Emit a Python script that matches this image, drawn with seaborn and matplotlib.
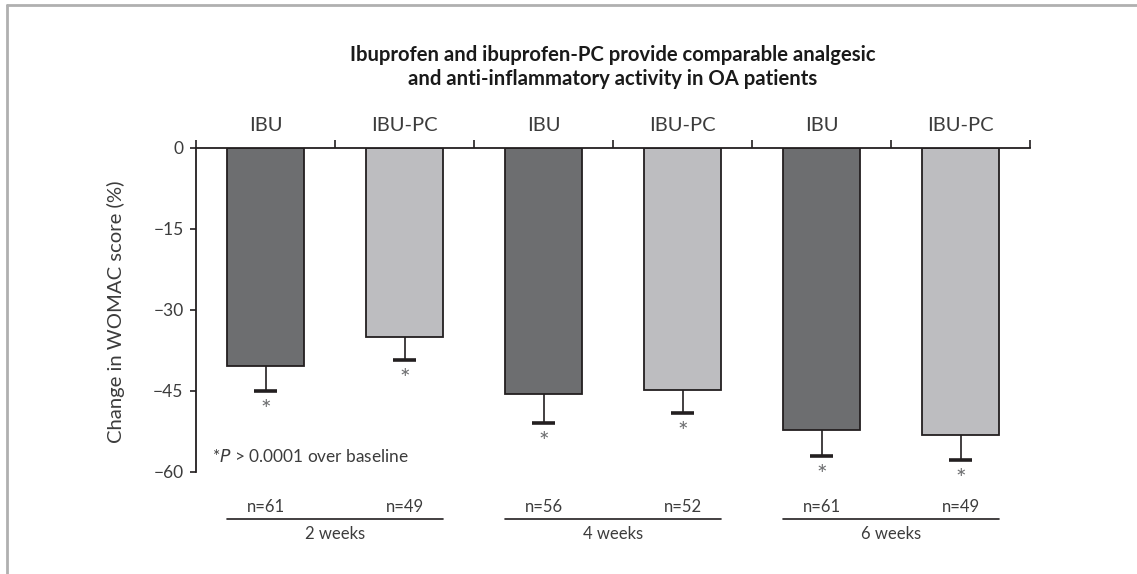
import matplotlib
matplotlib.use("Agg")
import matplotlib.pyplot as plt
import matplotlib.transforms as mtransforms
from matplotlib.lines import Line2D
import seaborn as sns
import pandas as pd
import numpy as np

# ---- data ----
weeks = ["2 weeks", "2 weeks", "4 weeks", "4 weeks", "6 weeks", "6 weeks"]
drugs = ["IBU", "IBU-PC", "IBU", "IBU-PC", "IBU", "IBU-PC"]
values = [-40.4, -35.1, -45.7, -44.8, -52.2, -53.3]
errors = [4.6, 4.3, 5.3, 4.4, 4.9, 4.6]
n_labels = ["n=61", "n=49", "n=56", "n=52", "n=61", "n=49"]
week_groups = ["2 weeks", "4 weeks", "6 weeks"]
yticks = [0, -15, -30, -45, -60]
title_lines = ["Ibuprofen and ibuprofen-PC provide comparable analgesic",
               "and anti-inflammatory activity in OA patients"]
ylabel = "Change in WOMAC score (%)"

sns.set_style("white")
plt.rcParams["font.family"] = ["Lato", "DejaVu Sans"]

TXT = "#3c3c3c"
colors = {"IBU": "#6d6e70", "IBU-PC": "#bcbdc0"}

df = pd.DataFrame({
    "slot": [f"{w} {d}" for w, d in zip(weeks, drugs)],
    "drug": drugs,
    "value": values,
    "err": errors,
})

W, H = 1137, 574
fig = plt.figure(figsize=(W / 100, H / 100), dpi=100)
ax = fig.add_axes([196 / W, 1 - 471.7 / H, 834 / W, 324.2 / H])

sns.barplot(data=df, x="slot", y="value", hue="drug", palette=colors,
            dodge=False, width=0.55, edgecolor="#231f20", linewidth=1.3,
            errorbar=None, legend=False, ax=ax)

xpos = np.arange(len(values))
vals = np.array(values)
errs = np.array(errors)
# downward error bars only
ax.vlines(xpos, vals, vals - errs, color="#231f20", lw=1.2, zorder=3)
ax.hlines(vals - errs, xpos - 0.085, xpos + 0.085, color="#231f20", lw=2.6, zorder=3)
for x, v, e in zip(xpos, vals, errs):
    ax.text(x, v - e - 3.6, "*", ha="center", va="center", fontsize=18,
            color="#6d6e70")

ax.set_xlim(-0.5, len(values) - 0.5)
ax.set_ylim(-60, 0)

# spines
for s in ["right", "bottom"]:
    ax.spines[s].set_visible(False)
for s in ["top", "left"]:
    ax.spines[s].set_color("#231f20")
    ax.spines[s].set_linewidth(1.3)

# x ticks on top at slot boundaries
ax.xaxis.tick_top()
ax.set_xticks(np.arange(-0.5, len(values), 1.0))
ax.set_xticklabels([])
ax.tick_params(axis="x", which="major", direction="out", length=6, width=1.2,
               color="#231f20", top=True, bottom=False)
ax.set_xlabel("")

trans = mtransforms.blended_transform_factory(ax.transData, ax.transAxes)
for x, lab in zip(xpos, drugs):
    ax.text(x, 1 + (147.5 - 130.5) / 324.2, lab, transform=trans, ha="center",
            va="baseline", fontsize=14.5, color=TXT)

ax.set_yticks(yticks)
ax.set_yticklabels([f"{t}".replace("-", "\u2212") for t in yticks])
ax.tick_params(axis="y", direction="out", length=4, width=1.2, color="#231f20",
               labelsize=12.5, labelcolor=TXT, pad=5, left=True)
ax.set_ylabel(ylabel, fontsize=14.6, color=TXT)
ax.yaxis.set_label_coords(-0.085, 0.493)

# bottom annotations
for x, lab in zip(xpos, n_labels):
    ax.text(x, -0.108, lab, transform=trans, ha="center", va="center",
            fontsize=12, color=TXT)
for g, wk in enumerate(week_groups):
    x0 = 2 * g - 0.275
    x1 = 2 * g + 1 + 0.275
    ax.add_line(Line2D([x0, x1], [-0.145, -0.145], transform=trans,
                       color="#231f20", lw=1.2, clip_on=False))
    ax.text(2 * g + 0.5, -0.192, wk, transform=trans, ha="center", va="center",
            fontsize=12, color=TXT)

# footnote
ax.text(0.019, 0.046, "*$\\it{P}$ > 0.0001 over baseline", transform=ax.transAxes,
        ha="left", va="center", fontsize=12.4, color=TXT)

# title
for ybase, line in zip([60.7, 85.0], title_lines):
    fig.text(613 / W, 1 - ybase / H, line, ha="center", va="baseline",
             fontsize=14.6, fontweight="bold", color="#1a1a1a")

# outer frame (top & left)
fig.add_artist(Line2D([7 / W, 1], [1 - 5 / H, 1 - 5 / H],
                      transform=fig.transFigure, color="#b0b0b0", lw=2))
fig.add_artist(Line2D([7 / W, 7 / W], [0, 1 - 5 / H],
                      transform=fig.transFigure, color="#b0b0b0", lw=2))

fig.savefig("out.png", dpi=100)
